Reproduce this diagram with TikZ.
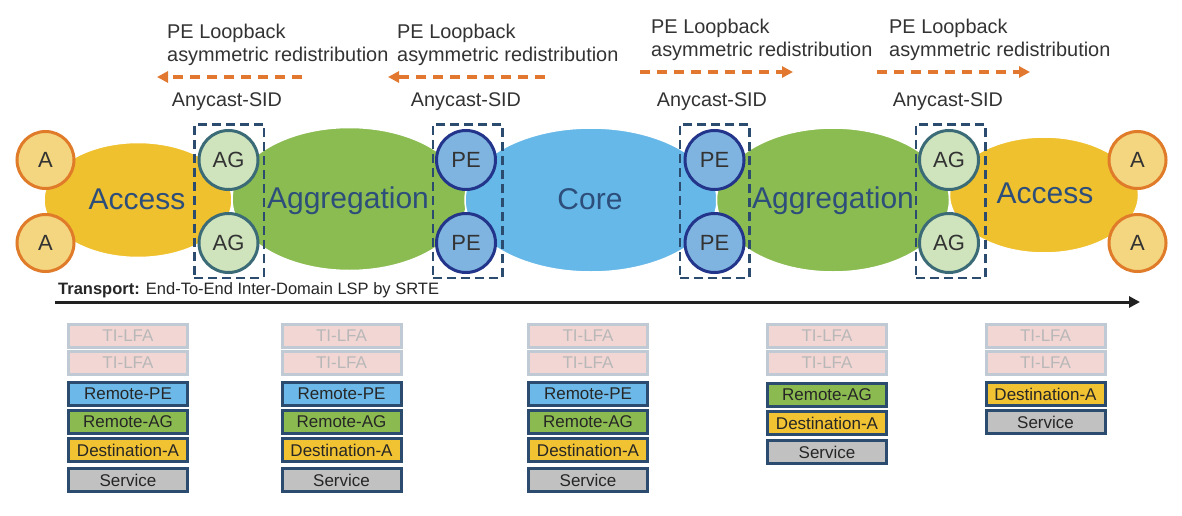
\documentclass[tikz,border=0pt]{standalone}
\usepackage{fontspec}
\setmainfont{Liberation Sans}
\usetikzlibrary{arrows.meta,shapes.geometric}
\definecolor{accessY}{HTML}{F0C12E}
\definecolor{aggG}{HTML}{8BBC52}
\definecolor{coreB}{HTML}{66B8E8}
\definecolor{aFill}{HTML}{F3D67F}
\definecolor{aLine}{HTML}{E07B2A}
\definecolor{agFill}{HTML}{CFE4BD}
\definecolor{agLine}{HTML}{3C6B78}
\definecolor{peFill}{HTML}{80B4E0}
\definecolor{peLine}{HTML}{23358A}
\definecolor{navy}{HTML}{2B4C6F}
\definecolor{orangeA}{HTML}{E2782F}
\definecolor{txt}{HTML}{333333}
\definecolor{domTxt}{HTML}{2D4E7A}
\definecolor{tiFill}{HTML}{F2D6D4}
\definecolor{tiLine}{HTML}{BFCAD5}
\definecolor{tiTxt}{HTML}{B8B8B8}
\definecolor{rpe}{HTML}{6CB9E9}
\definecolor{rag}{HTML}{8BBB50}
\definecolor{dsta}{HTML}{F1C232}
\definecolor{svc}{HTML}{C1C1C1}
\begin{document}
\begin{tikzpicture}[x=1pt,y=-1pt,
  dom/.style={ellipse, draw=white, line width=1.5pt, inner sep=0pt},
  domlab/.style={text=domTxt, inner sep=0pt, font=\fontsize{30}{36}\selectfont},
  anode/.style={circle, fill=aFill, draw=aLine, line width=3pt, minimum size=57pt, inner sep=0pt, text=txt, font=\fontsize{22}{24}\selectfont},
  agnode/.style={circle, fill=agFill, draw=agLine, line width=3pt, minimum size=59pt, inner sep=0pt, text=txt, font=\fontsize{22}{24}\selectfont},
  penode/.style={circle, fill=peFill, draw=peLine, line width=3pt, minimum size=59pt, inner sep=0pt, text=txt, font=\fontsize{22}{24}\selectfont},
  anybox/.style={rectangle, draw=navy, line width=2.5pt, dash pattern=on 9pt off 5pt, minimum width=69.5pt, minimum height=153.5pt, inner sep=0pt},
  toplab/.style={anchor=west, align=left, inner sep=0pt, text=txt, font=\fontsize{19.9}{23}\selectfont},
  anylab/.style={inner sep=0pt, text=txt, font=\fontsize{19.8}{23}\selectfont},
  redis/.style={draw=orangeA, line width=3.5pt, dash pattern=on 10pt off 7pt, -{Triangle[length=11pt,width=11pt]}},
  stk/.style={rectangle, line width=3pt, minimum width=119pt, minimum height=23pt, inner sep=0pt, draw=navy, text=black!85, font=\fontsize{17}{19}\selectfont},
  ti/.style={stk, fill=tiFill, draw=tiLine, text=tiTxt},
  rpestk/.style={stk, fill=rpe},
  ragstk/.style={stk, fill=rag},
  dststk/.style={stk, fill=dsta},
  svcstk/.style={stk, fill=svc}]
\useasboundingbox (0,0) rectangle (1182,516);
\fill[white] (0,0) rectangle (1182,516);

% domains
\node[dom, fill=accessY, minimum width=188pt, minimum height=115pt] (acc1) at (138,200) {};
\node[dom, fill=aggG, minimum width=235pt, minimum height=143pt] (agg1) at (349.5,199) {};
\node[dom, fill=coreB, minimum width=252pt, minimum height=144pt] (core) at (591,200) {};
\node[dom, fill=aggG, minimum width=233pt, minimum height=144pt] (agg2) at (833,200) {};
\node[dom, fill=accessY, minimum width=189pt, minimum height=116pt] (acc2) at (1044,195) {};
\node[domlab] (acc1l) at (137,199) {Access};
\node[domlab] (agg1l) at (348,201) {Aggregation};
\node[domlab] (corel) at (590,199) {Core};
\node[domlab] (agg2l) at (833,201) {Aggregation};
\node[domlab] (acc2l) at (1045,193) {Access};

% routers
\node[anode] (a1) at (45.5,160) {A};
\node[anode] (a2) at (45.5,243) {A};
\node[anode] (a3) at (1137.5,160) {A};
\node[anode] (a4) at (1137.5,243) {A};
\node[agnode] (ag1) at (228.5,160) {AG};
\node[agnode] (ag2) at (228.5,243) {AG};
\node[agnode] (ag3) at (949,160) {AG};
\node[agnode] (ag4) at (949,243) {AG};
\node[penode] (pe1) at (466,160) {PE};
\node[penode] (pe2) at (466,243) {PE};
\node[penode] (pe3) at (714.5,160) {PE};
\node[penode] (pe4) at (714.5,243) {PE};

% anycast boxes
\node[anybox] (box1) at (229,201) {};
\node[anybox] (box2) at (467.5,201) {};
\node[anybox] (box3) at (714.5,201) {};
\node[anybox] (box4) at (950.5,201) {};
\node[anylab] (any1) at (227,102) {Anycast-SID};
\node[anylab] (any2) at (466,102) {Anycast-SID};
\node[anylab] (any3) at (712,102) {Anycast-SID};
\node[anylab] (any4) at (948,102) {Anycast-SID};

% redistribution labels
\node[toplab] (r1) at (167,44.5) {PE Loopback\\asymmetric redistribution};
\node[toplab] (r2) at (397,44.5) {PE Loopback\\asymmetric redistribution};
\node[toplab] (r3) at (651,40) {PE Loopback\\asymmetric redistribution};
\node[toplab] (r4) at (889,40) {PE Loopback\\asymmetric redistribution};
\coordinate (r1s) at (302,77); \coordinate (r1e) at (157,77);
\coordinate (r2s) at (545,77); \coordinate (r2e) at (388,77);
\coordinate (r3s) at (640,72); \coordinate (r3e) at (793,72);
\coordinate (r4s) at (877,72); \coordinate (r4e) at (1030,72);
\draw[redis] (r1s) -- (r1e);
\draw[redis] (r2s) -- (r2e);
\draw[redis] (r3s) -- (r3e);
\draw[redis] (r4s) -- (r4e);

% transport
\node[anchor=west, inner sep=0pt, text=black!85, font=\fontsize{16.5}{19}\selectfont] (tr) at (58,290) {\textbf{Transport:} End-To-End Inter-Domain LSP by SRTE};
\coordinate (ts) at (55,302); \coordinate (te) at (1140,302);
\draw[line width=3pt, draw=black!87, -{Triangle[length=11pt,width=11pt]}] (ts) -- (te);

% stacks
\foreach \n/\x in {1/128,2/341.5,3/588}{
  \node[ti] (s\n t1) at (\x,335.5) {TI-LFA};
  \node[ti] (s\n t2) at (\x,363) {TI-LFA};
  \node[rpestk] (s\n pe) at (\x,393.5) {Remote-PE};
  \node[ragstk] (s\n ag) at (\x,422) {Remote-AG};
  \node[dststk] (s\n da) at (\x,450) {Destination-A};
  \node[svcstk] (s\n sv) at (\x,480) {Service};
}
\node[ti] (s4t1) at (827,335.5) {TI-LFA};
\node[ti] (s4t2) at (827,363) {TI-LFA};
\node[ragstk] (s4ag) at (827,394.5) {Remote-AG};
\node[dststk] (s4da) at (827,423) {Destination-A};
\node[svcstk] (s4sv) at (827,452) {Service};
\node[ti] (s5t1) at (1045.5,335.5) {TI-LFA};
\node[ti] (s5t2) at (1045.5,363) {TI-LFA};
\node[dststk] (s5da) at (1045.5,394) {Destination-A};
\node[svcstk] (s5sv) at (1045.5,422) {Service};
\end{tikzpicture}
\end{document}
